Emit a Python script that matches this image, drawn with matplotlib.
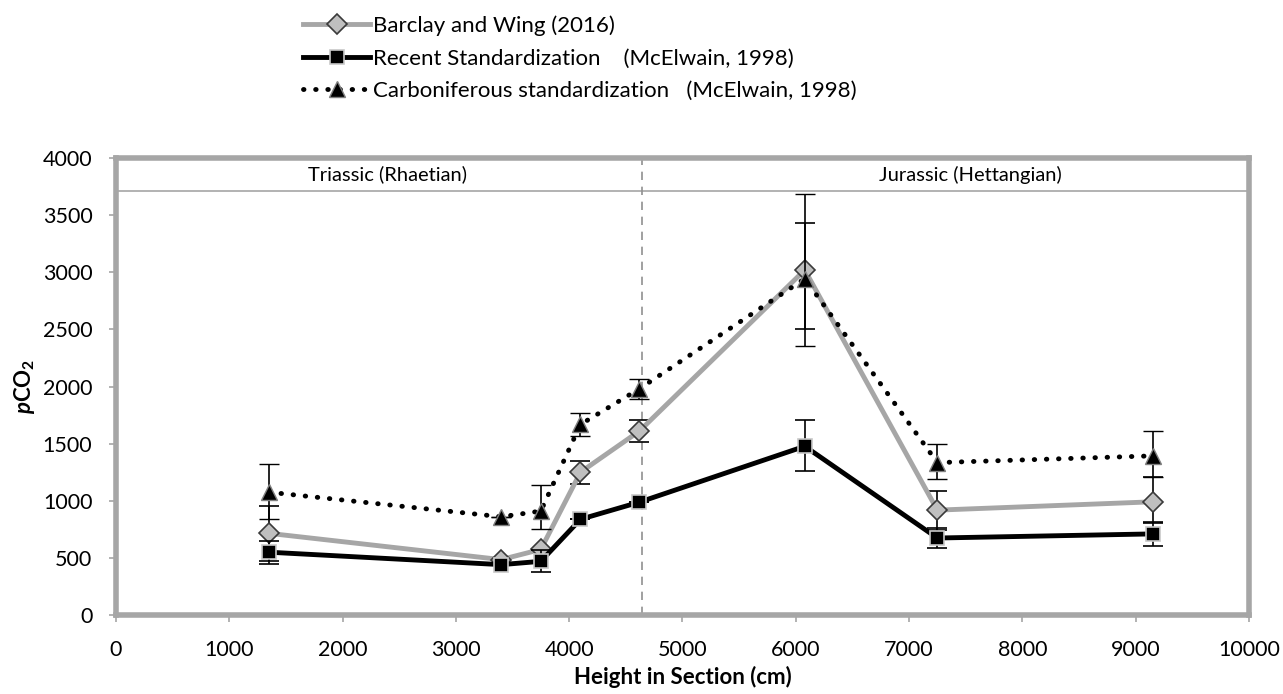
import matplotlib
matplotlib.use('Agg')
import matplotlib.pyplot as plt
from matplotlib.lines import Line2D

plt.rcParams['font.family'] = ['Lato', 'DejaVu Sans']
plt.rcParams['mathtext.fontset'] = 'custom'
plt.rcParams['mathtext.rm'] = 'Lato:bold'
plt.rcParams['mathtext.bf'] = 'Lato:bold'
plt.rcParams['mathtext.it'] = 'Lato:bold:italic'

# heights in section (cm)
height = [1350, 3400, 3750, 4100, 4620, 6080, 7250, 9150]

# Barclay and Wing (2016)
bw = [715, 485, 574, 1250, 1610, 3020, 918, 991]
bw_lo = [240, 0, 0, 100, 95, 515, 170, 185]
bw_hi = [240, 0, 0, 100, 95, 415, 170, 215]

# Recent standardization (McElwain, 1998)
rs = [550, 441, 470, 838, 988, 1477, 674, 710]
rs_lo = [100, 0, 97, 0, 0, 220, 90, 103]
rs_hi = [100, 0, 97, 0, 0, 234, 90, 100]

# Carboniferous standardization (McElwain, 1998)
cs = [1075, 860, 910, 1668, 1980, 2944, 1334, 1393]
cs_lo = [235, 0, 160, 100, 85, 590, 146, 182]
cs_hi = [248, 0, 228, 100, 87, 745, 167, 214]

labels = ['Barclay and Wing (2016)',
          'Recent Standardization    (McElwain, 1998)',
          'Carboniferous standardization   (McElwain, 1998)']

boundary = 4640
band_y = 3712

dotted = (0, (0.1, 2.4))
bw_style = dict(color='#A6A6A6', lw=3.5, marker='D', ms=10, mfc='#BFBFBF',
                mec='#3A3A3A', mew=1.2)
rs_style = dict(color='black', lw=3.5, marker='s', ms=10, mfc='black',
                mec='#C8C8C8', mew=1.2)
cs_style = dict(color='black', lw=3.5, ls=dotted, dash_capstyle='round',
                marker='^', ms=12, mfc='black', mec='#808080', mew=1.0)
err = dict(ecolor='black', elinewidth=1.2, capsize=7, capthick=1.2)

fig = plt.figure(figsize=(12.83, 6.94), dpi=100)
ax = fig.add_axes([0.0904, 0.1138, 0.883, 0.6585])

ax.errorbar(height, bw, yerr=[bw_lo, bw_hi], zorder=3, **bw_style, **err)
ax.errorbar(height, rs, yerr=[rs_lo, rs_hi], zorder=4, **rs_style, **err)
ax.errorbar(height, cs, yerr=[cs_lo, cs_hi], zorder=5, **cs_style, **err)

ax.axhline(band_y, color='#A6A6A6', lw=1.2, zorder=1)
ax.axvline(boundary, color='#909090', lw=1.2, ls=(0, (5, 4)), zorder=1)
ax.text(2400, (band_y + 4000) / 2, 'Triassic (Rhaetian)', ha='center',
        va='center', fontsize=14.5)
ax.text(7540, (band_y + 4000) / 2, 'Jurassic (Hettangian)', ha='center',
        va='center', fontsize=14.5)

ax.set_xlim(0, 10000)
ax.set_ylim(0, 4000)
ax.set_xticks(range(0, 10001, 1000))
ax.set_yticks(range(0, 4001, 500))
for s in ax.spines.values():
    s.set_color('#A6A6A6')
    s.set_linewidth(4)
ax.tick_params(direction='out', length=5, width=1.2, color='#A6A6A6',
               labelsize=15.5)
ax.tick_params(axis='x', pad=13)
ax.tick_params(axis='y', pad=12)

ax.set_xlabel('Height in Section (cm)', fontsize=16, fontweight='bold',
              labelpad=4)
ax.set_ylabel(r'$\mathit{p}\mathrm{CO}_\mathrm{2}$', fontsize=16, labelpad=4)

handles = [Line2D([], [], **bw_style), Line2D([], [], **rs_style),
           Line2D([], [], **cs_style)]
fig.legend(handles, labels, loc='upper left', bbox_to_anchor=(0.226, 0.997),
           frameon=False, fontsize=16, handlelength=3.0, handletextpad=0.15,
           labelspacing=0.56, borderaxespad=0.2)

fig.savefig('out.png', dpi=100)
